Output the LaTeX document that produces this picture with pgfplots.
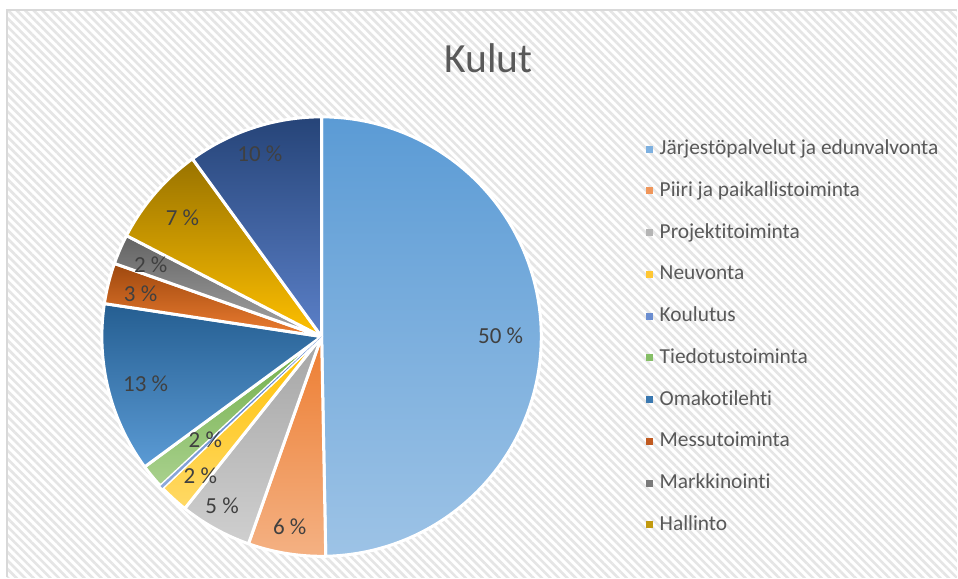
\documentclass[border=0pt]{standalone}
\usepackage{pgfplots}
\pgfplotsset{compat=1.18}
\usepackage{fontspec}
\setmainfont[Ligatures=NoCommon]{Carlito}
\usetikzlibrary{patterns.meta}
\definecolor{txt}{HTML}{595959}
\definecolor{lbl}{HTML}{404040}
\definecolor{bord}{HTML}{D9D9D9}
% slice gradient colours (top / bottom) and legend colours
\definecolor{aT}{HTML}{5B9BD5}\definecolor{aB}{HTML}{9DC3E6}\definecolor{aL}{HTML}{7DB0E0}
\definecolor{bT}{HTML}{ED7D31}\definecolor{bB}{HTML}{F4B183}\definecolor{bL}{HTML}{F0965A}
\definecolor{cT}{HTML}{A5A5A5}\definecolor{cB}{HTML}{CFCFCF}\definecolor{cL}{HTML}{B5B5B5}
\definecolor{dT}{HTML}{FFC000}\definecolor{dB}{HTML}{FFD966}\definecolor{dL}{HTML}{FFC733}
\definecolor{eT}{HTML}{4472C4}\definecolor{eB}{HTML}{8FAADC}\definecolor{eL}{HTML}{6A8DD0}
\definecolor{fT}{HTML}{70AD47}\definecolor{fB}{HTML}{A9D18E}\definecolor{fL}{HTML}{85BE66}
\definecolor{gT}{HTML}{255E91}\definecolor{gB}{HTML}{5B9BD5}\definecolor{gL}{HTML}{3A78B0}
\definecolor{hT}{HTML}{9E480E}\definecolor{hB}{HTML}{ED7D31}\definecolor{hL}{HTML}{C05A20}
\definecolor{iT}{HTML}{636363}\definecolor{iB}{HTML}{A5A5A5}\definecolor{iL}{HTML}{7A7A7A}
\definecolor{jT}{HTML}{997300}\definecolor{jB}{HTML}{FFC000}\definecolor{jL}{HTML}{C29A10}
\definecolor{kT}{HTML}{264478}\definecolor{kB}{HTML}{5B80C8}

\newcommand{\cum}{0}
\newcommand{\drawslice}[5]{%
  \pgfmathsetmacro{\sa}{#1*3.6}%
  \pgfmathsetmacro{\sb}{(#1+#2)*3.6}%
  \edef\doslice{\noexpand\addplot[forget plot, top color=#3, bottom color=#4, domain=\sa:\sb, samples=90, #5] ({sin(x)},{cos(x)}) -- (axis cs:0,0) -- cycle;}%
  \doslice}
\newcommand{\slice}[3]{%
  \drawslice{\cum}{#1}{#2}{#3}{draw=white, line width=1.5pt, line join=round}%
  \pgfmathsetmacro{\cumn}{\cum+#1}\xdef\cum{\cumn}}

\begin{document}
\begin{tikzpicture}[x=0.5pt,y=0.5pt]
\fill[white] (0,0) rectangle (958,578);
\fill[pattern={Lines[angle=-45,distance=3pt,line width=1.3pt]}, pattern color=black!10] (7,0) rectangle (958,568);
\draw[bord, line width=1.2pt] (7,0) -- (7,568) -- (958,568);
\node[text=txt, font=\fontsize{20.8}{24}\selectfont] at (489,520) {Kulut};

\begin{axis}[at={(161pt,120.5pt)}, anchor=center,
  x=110pt, y=110pt, xmin=-1, xmax=1, ymin=-1, ymax=1,
  hide axis, clip=false,
  legend cell align=left,
  legend image code/.code={\fill[#1, draw=none] (0pt,-1.75pt) rectangle (3.5pt,1.75pt);},
  legend style={draw=none, fill=none, at={(1.223,0.965)}, anchor=north west,
    font=\fontsize{10.7}{12.8}\selectfont, text=txt,
    nodes={text height=8pt, text depth=2.5pt, inner sep=1pt},
    row sep=8.4pt,
    /tikz/every odd column/.append style={column sep=2.5pt}},
]
% values in percent, clockwise from 12 o'clock
\slice{49.7}{aT}{aB}
\slice{5.7}{bT}{bB}
\slice{5.3}{cT}{cB}
\slice{2.2}{dT}{dB}
\xdef\kstart{\cum}
\slice{0.2}{eT}{eB}
\slice{1.8}{fT}{fB}
\slice{12.5}{gT}{gB}
\slice{3.0}{hT}{hB}
\slice{2.2}{iT}{iB}
\slice{7.4}{jT}{jB}
\slice{10.0}{kT}{kB}
% the tiny Koulutus slice drawn again on top of the borders
\drawslice{\kstart}{0.2}{eT}{eB}{draw=none}

\addlegendimage{fill=aL}\addlegendentry{Järjestöpalvelut ja edunvalvonta}
\addlegendimage{fill=bL}\addlegendentry{Piiri ja paikallistoiminta}
\addlegendimage{fill=cL}\addlegendentry{Projektitoiminta}
\addlegendimage{fill=dL}\addlegendentry{Neuvonta}
\addlegendimage{fill=eL}\addlegendentry{Koulutus}
\addlegendimage{fill=fL}\addlegendentry{Tiedotustoiminta}
\addlegendimage{fill=gL}\addlegendentry{Omakotilehti}
\addlegendimage{fill=hL}\addlegendentry{Messutoiminta}
\addlegendimage{fill=iL}\addlegendentry{Markkinointi}
\addlegendimage{fill=jL}\addlegendentry{Hallinto}

\begin{scope}[every node/.style={text=lbl, font=\fontsize{11.5}{13}\selectfont}]
\node at (axis cs:0.815,0.005) {50 \%};
\node at (axis cs:-0.145,-0.865) {6 \%};
\node at (axis cs:-0.453,-0.769) {5 \%};
\node at (axis cs:-0.552,-0.633) {2 \%};
\node at (axis cs:-0.529,-0.471) {2 \%};
\node at (axis cs:-0.801,-0.213) {13 \%};
\node at (axis cs:-0.824,0.194) {3 \%};
\node at (axis cs:-0.778,0.326) {2 \%};
\node at (axis cs:-0.633,0.543) {7 \%};
\node at (axis cs:-0.281,0.833) {10 \%};
\end{scope}
\end{axis}
\end{tikzpicture}
\end{document}
